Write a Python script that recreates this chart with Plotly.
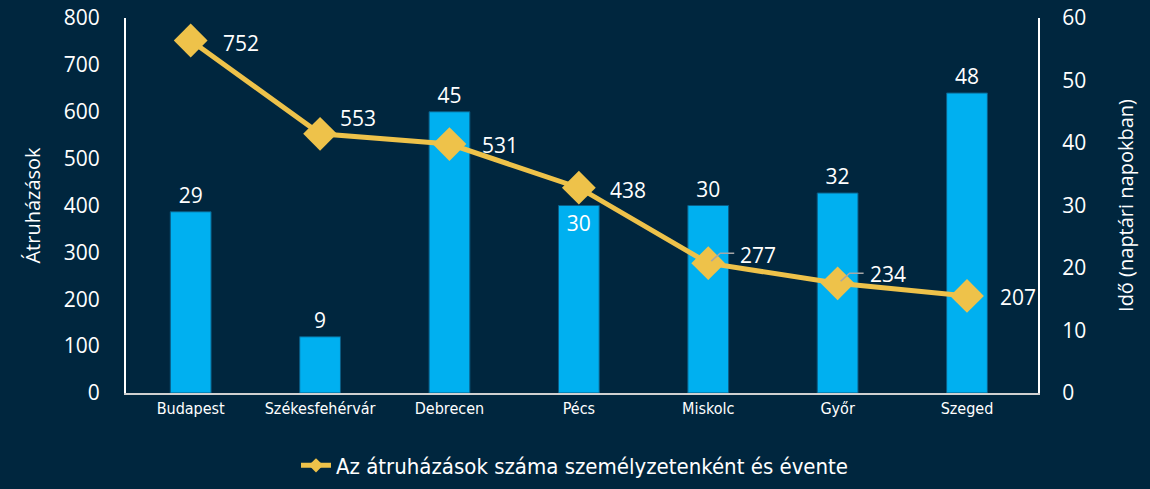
import plotly.graph_objects as go

categories = ["Budapest", "Székesfehérvár", "Debrecen", "Pécs", "Miskolc", "Győr", "Szeged"]
ido_napok = [29, 9, 45, 30, 30, 32, 48]
atruhazasok = [752, 553, 531, 438, 277, 234, 207]
left_ticks = [0, 100, 200, 300, 400, 500, 600, 700, 800]
right_ticks = [0, 10, 20, 30, 40, 50, 60]
legend_name = "Az átruházások száma személyzetenként és évente"

# label placement styling for line labels (pixel offsets)
lbl_dx = [30, 18, 31, 29, 30, 30, 31]
lbl_dy = [-2, 16, -1, -2, 8, 9, -1]
leader = [False, False, False, False, True, True, False]

BG = "#00263E"
BAR = "#00B0F0"
LINE = "#EEC24A"
FONT = "Open Sans"
COND = "DejaVu Sans Condensed"
FS = 21

fig = go.Figure()
fig.add_trace(go.Bar(
    x=categories, y=ido_napok, yaxis="y", marker_color=BAR,
    marker_line=dict(color="#0B5C84", width=1),
    text=[str(v) for v in ido_napok],
    textposition=["outside", "outside", "outside", "inside", "outside", "outside", "outside"],
    insidetextanchor="end",
    textfont=dict(color="white", size=FS, family=FONT),
    cliponaxis=False, showlegend=False,
))
fig.add_trace(go.Scatter(
    x=categories, y=atruhazasok, yaxis="y2", mode="lines+markers",
    line=dict(color=LINE, width=5),
    marker=dict(symbol="diamond", size=26, color=LINE),
    name=legend_name, cliponaxis=False, showlegend=False,
))
# legend entry (small marker, like the reference)
fig.add_trace(go.Scatter(
    x=[None], y=[None], yaxis="y2", mode="lines+markers",
    line=dict(color=LINE, width=5),
    marker=dict(symbol="diamond", size=11, color=LINE),
    name=legend_name, showlegend=True,
))

for c, v, dx, dy, ld in zip(categories, atruhazasok, lbl_dx, lbl_dy, leader):
    fig.add_annotation(x=c, y=v, xref="x", yref="y2", text=str(v), showarrow=False,
                       xanchor="left", yanchor="middle", xshift=dx, yshift=dy,
                       font=dict(color="white", size=FS, family=FONT))
    if ld:
        fig.add_shape(type="path", xref="x", yref="y2", xsizemode="pixel", ysizemode="pixel",
                      xanchor=c, yanchor=v, path="M 3,2 L 12,10 L 26,10",
                      line=dict(color="#A6A6A6", width=1.5), layer="above")

fig.update_layout(
    width=1150, height=489,
    paper_bgcolor=BG, plot_bgcolor=BG,
    margin=dict(l=126, r=112, t=18, b=96, autoexpand=False),
    bargap=0.685,
    xaxis=dict(showgrid=False, showline=True, linecolor="#D0D0D0", linewidth=2,
               tickfont=dict(color="white", size=16, family=COND),
               ticks="", automargin=False),
    yaxis=dict(side="right", range=[0, 60], tickvals=right_ticks, showgrid=False,
               showline=True, linecolor="white", linewidth=2, zeroline=False, automargin=False,
               tickfont=dict(color="white", size=FS, family=FONT), ticklabelstandoff=18,
               title=dict(text="Idő (naptári napokban)", font=dict(color="white", size=20, family=FONT), standoff=34)),
    yaxis2=dict(side="left", overlaying="y", range=[0, 800], tickvals=left_ticks, showgrid=False,
                showline=True, linecolor="white", linewidth=2, zeroline=False, automargin=False,
                tickfont=dict(color="white", size=FS, family=FONT), ticklabelstandoff=20,
                title=dict(text="Átruházások", font=dict(color="white", size=20, family=FONT), standoff=18)),
    legend=dict(orientation="h", x=0.5, xanchor="center", xref="container",
                y=0.005, yanchor="bottom", yref="container",
                font=dict(color="white", size=22, family=COND), bgcolor="rgba(0,0,0,0)"),
    showlegend=True,
)

fig.write_html("out.html", config={"displayModeBar": False},
               post_script="document.body.style.margin='0';document.body.style.overflow='hidden';document.body.style.background='#00263E';")
